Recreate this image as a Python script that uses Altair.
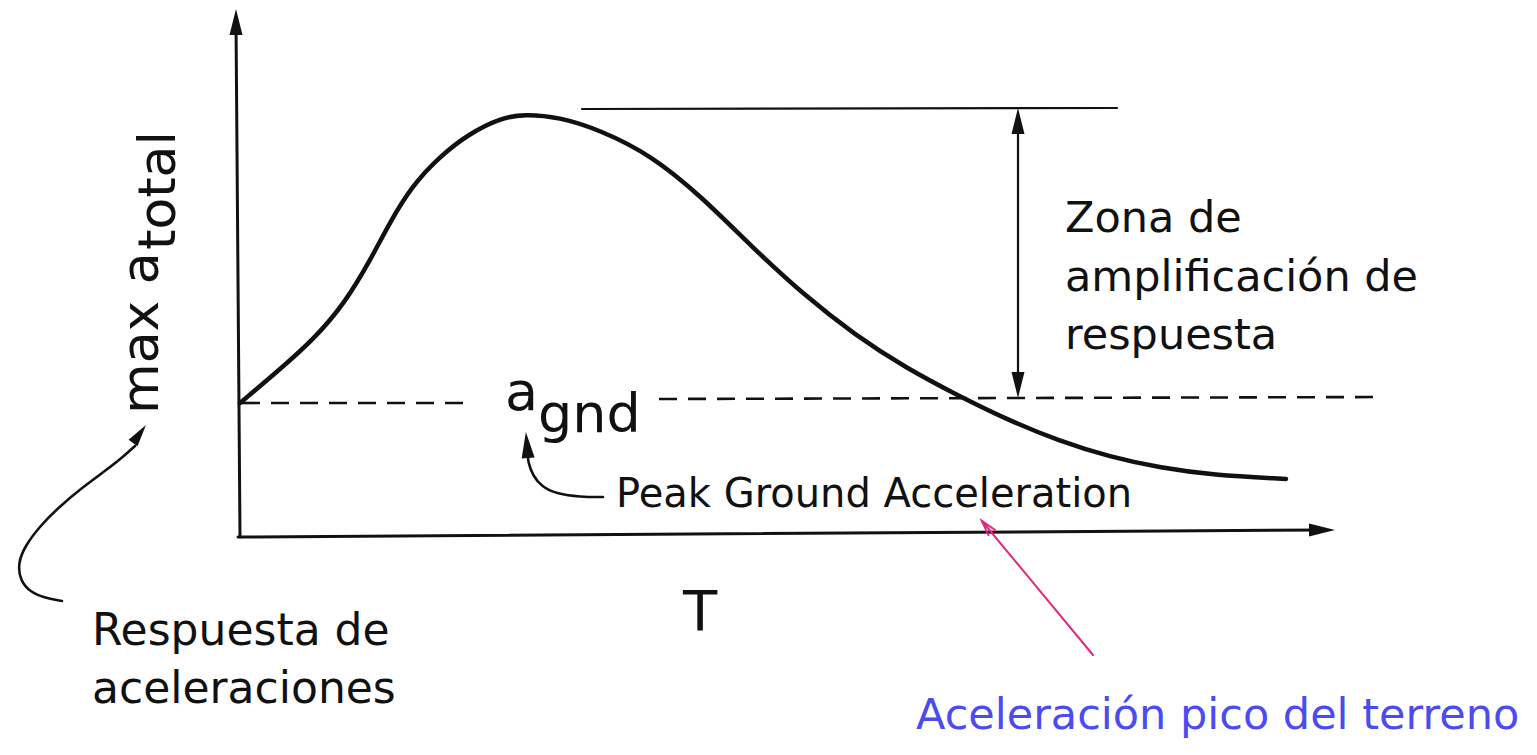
import altair as alt
import pandas as pd

# ---------------- data (T = period axis, A = max total acceleration) ----------------
# response spectrum curve
curve_T = [0.02, 0.40, 0.76, 1.07, 1.34, 1.52, 1.74, 2.01, 2.32, 2.63, 2.86, 3.21, 3.62,
           4.13, 4.64, 5.15, 5.66, 6.17, 6.68, 7.19, 7.70, 8.21, 8.72, 9.23, 9.74, 10.48]
curve_A = [1.34, 1.66, 1.98, 2.34, 2.80, 3.15, 3.51, 3.80, 4.04, 4.19, 4.23, 4.20, 4.07,
           3.82, 3.40, 2.89, 2.42, 2.02, 1.69, 1.42, 1.17, 0.96, 0.80, 0.69, 0.62, 0.58]

# axes (drawn as arrows)
yaxis_T = [0.02, -0.02]
yaxis_A = [0.00, 5.15]
xaxis_T = [0.00, 10.84]
xaxis_A = [0.00, 0.07]

# peak level line and amplification double arrow
peak_T = [3.44, 8.79]
peak_A = [4.28, 4.29]
amp_T = [7.80, 7.80]
amp_A = [4.16, 1.52]

# a_gnd dashed level (two pieces around the label)
gnd1_T = [0.04, 2.28]
gnd1_A = [1.34, 1.34]
gnd2_T = [4.21, 11.45]
gnd2_A = [1.38, 1.40]

# curved pointer from "Peak Ground Acceleration" to a_gnd
pga_T = [3.65, 3.42, 3.19, 3.04, 2.95, 2.90, 2.90]
pga_A = [0.40, 0.40, 0.43, 0.50, 0.61, 0.75, 0.82]

# curved pointer from "Respuesta de aceleraciones" to the y label
resp_T = [-1.76, -1.93, -2.08, -2.18, -2.20, -2.13, -1.98, -1.78, -1.55, -1.33, -1.15, -1.03]
resp_A = [-0.64, -0.61, -0.55, -0.43, -0.26, -0.09, 0.11, 0.31, 0.50, 0.66, 0.80, 0.91]

# magenta pointer
mag_T = [8.55, 7.44]
mag_A = [-1.18, 0.16]

# arrow heads: centre, rotation (deg), size
head_T = [-0.02, 10.84, 7.80, 7.80, 2.89, -0.985]
head_A = [5.15, 0.07, 4.16, 1.52, 0.92, 1.03]
head_ang = [0, 90, 0, 180, 355, 36]
head_size = [676, 676, 676, 676, 676, 484]

maghead_T = [7.49]
maghead_A = [0.10]
maghead_ang = [320]

# labels
lab_text = ["max a", "total", "a", "gnd", "Peak Ground Acceleration",
            "Zona de", "amplificación de", "respuesta", "T",
            "Respuesta de", "aceleraciones", "Aceleración pico del terreno"]
lab_T = [-0.80, -0.63, 2.67, 3.00, 3.78, 8.27, 8.27, 8.27, 4.45, -1.46, -1.46, 6.78]
lab_A = [1.23, 2.87, 1.27, 1.05, 0.30, 3.05, 2.46, 1.88, -0.93, -1.08, -1.66, -1.92]
lab_size = [52, 52, 54, 54, 40, 43, 43, 43, 56, 44, 44, 43]
lab_angle = [270, 270, 0, 0, 0, 0, 0, 0, 0, 0, 0, 0]
lab_color = ["#111111"] * 11 + ["#4b4bf2"]

# ---------------- helpers ----------------
X_DOMAIN = [-2.30, 12.91]
Y_DOMAIN = [-2.04, 5.29]
FONT = "DejaVu Sans"


def xq():
    return alt.X("T:Q", scale=alt.Scale(domain=X_DOMAIN, nice=False, zero=False), axis=None)


def yq():
    return alt.Y("A:Q", scale=alt.Scale(domain=Y_DOMAIN, nice=False, zero=False), axis=None)


def seg_df(pairs):
    rows = []
    for s, (ts, as_) in enumerate(pairs):
        for i, (t, a) in enumerate(zip(ts, as_)):
            rows.append({"seg": s, "i": i, "T": t, "A": a})
    return pd.DataFrame(rows)


def line_layer(pairs, width, color="#111111", dash=None, cap="round", interp="linear"):
    kw = dict(strokeWidth=width, color=color, strokeCap=cap, strokeJoin="round",
              interpolate=interp)
    if dash:
        kw["strokeDash"] = dash
    return alt.Chart(seg_df(pairs)).mark_line(**kw).encode(
        x=xq(), y=yq(), detail="seg:N", order=alt.Order("i:Q")
    )


axes = line_layer([(yaxis_T, yaxis_A), (xaxis_T, xaxis_A)], 3.0)
thin = line_layer([(peak_T, peak_A), (amp_T, amp_A)], 2.2)
dashed = line_layer([(gnd1_T, gnd1_A), (gnd2_T, gnd2_A)], 2.6, dash=[18, 11], cap="butt")
curve = line_layer([(curve_T, curve_A)], 4.5, interp="basis")
pointers = line_layer([(pga_T, pga_A), (resp_T, resp_A)], 2.6, interp="basis")
magenta = line_layer([(mag_T, mag_A)], 2.0, color="#e0287f")

ARROW = "M0,-1L0.5,1L-0.5,1Z"
heads = alt.Chart(pd.DataFrame({"T": head_T, "A": head_A, "ang": head_ang, "sz": head_size})).mark_point(
    shape=ARROW, filled=True, color="#111111", opacity=1, strokeWidth=0
).encode(x=xq(), y=yq(), angle=alt.Angle("ang:Q", scale=None), size=alt.Size("sz:Q", scale=None))

OPEN = "M-0.55,1L0,-1L0.55,1"
maghead = alt.Chart(pd.DataFrame({"T": maghead_T, "A": maghead_A, "ang": maghead_ang})).mark_point(
    shape=OPEN, filled=False, color="#e0287f", opacity=1, strokeWidth=2, size=256
).encode(x=xq(), y=yq(), angle=alt.Angle("ang:Q", scale=None))

labels = alt.Chart(pd.DataFrame({
    "text": lab_text, "T": lab_T, "A": lab_A, "fs": lab_size, "ang": lab_angle, "col": lab_color
})).mark_text(font=FONT, align="left", baseline="alphabetic").encode(
    x=xq(), y=yq(), text="text:N",
    size=alt.Size("fs:Q", scale=None),
    angle=alt.Angle("ang:Q", scale=None),
    color=alt.Color("col:N", scale=None),
)

chart = alt.layer(axes, thin, dashed, curve, pointers, magenta, heads, maghead, labels).properties(
    width=1521, height=733, padding=0, autosize=alt.AutoSizeParams(type="none"),
    background="white",
).configure_view(strokeWidth=0)

chart.save("out.html", embed_options={"renderer": "svg", "actions": False})
